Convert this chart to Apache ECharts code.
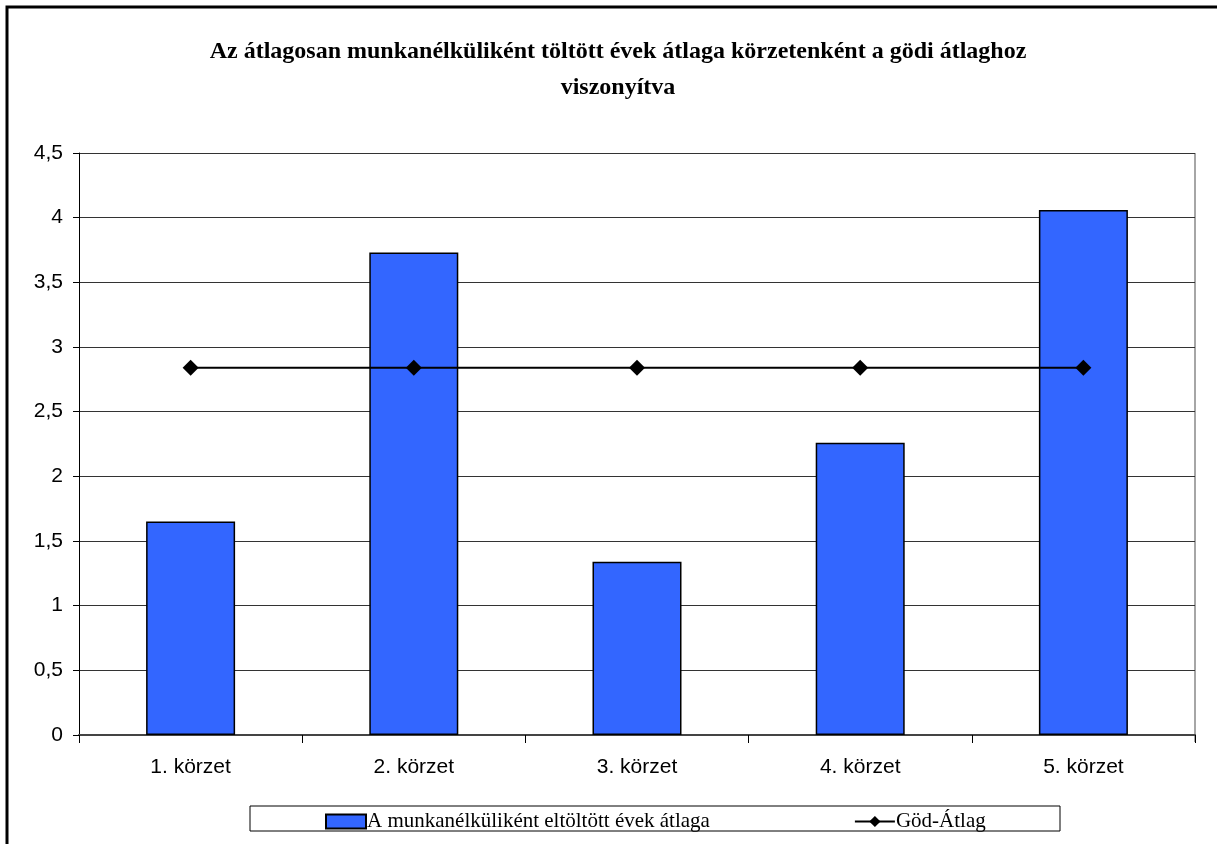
<!DOCTYPE html>
<html lang="hu">
<head>
    <meta charset="UTF-8">
    <title>Munkanélküliként töltött évek</title>
    <script type="text/javascript" src="https://cdn.jsdelivr.net/npm/echarts@6/dist/echarts.min.js"></script>
</head>
<body style="height: 844px; margin: 0; width: 1217px; background: #fff">
<div id="container" style="height: 100%; width: 100%"></div>
<script type="text/javascript">
    var korzetek = ['1. körzet', '2. körzet', '3. körzet', '4. körzet', '5. körzet'];
    var munkanelkuliEvek = [1.65, 3.73, 1.34, 2.26, 4.06];
    var godAtlag = [2.84, 2.84, 2.84, 2.84, 2.84];

    var dom = document.getElementById("container");
    var myChart = echarts.init(dom);

    var option = {
        animation: false,
        title: {
            text: 'Az átlagosan munkanélküliként töltött évek átlaga körzetenként a gödi átlaghoz\nviszonyítva',
            left: 613,
            top: 29,
            textAlign: 'center',
            textStyle: {
                fontFamily: 'Liberation Serif',
                fontWeight: 'bold',
                fontSize: 24,
                lineHeight: 36,
                color: '#000'
            }
        },
        graphic: [
            {
                type: 'rect',
                shape: { x: 7, y: 7, width: 1240, height: 860 },
                style: { fill: 'none', stroke: '#000', lineWidth: 3 },
                silent: true
            },
            {
                type: 'rect',
                shape: { x: 250, y: 806, width: 810, height: 25 },
                style: { fill: 'none', stroke: '#000', lineWidth: 1 },
                silent: true
            },
            {
                type: 'line',
                shape: { x1: 1195, y1: 153, x2: 1195, y2: 742 },
                style: { stroke: '#888', lineWidth: 1.5 },
                silent: true
            }
        ],
        legend: {
            left: 320,
            top: 806,
            itemGap: 144,
            itemWidth: 40,
            itemHeight: 14,
            textStyle: {
                fontFamily: 'Liberation Serif',
                fontSize: 21,
                color: '#000',
                padding: [0, 0, 0, -4]
            },
            data: [
                { name: 'A munkanélküliként eltöltött évek átlaga', icon: 'rect' },
                { name: 'Göd-Átlag' }
            ]
        },
        grid: {
            left: 79,
            top: 153,
            width: 1116,
            height: 582,
            containLabel: false
        },
        xAxis: {
            type: 'category',
            data: korzetek,
            axisLine: { lineStyle: { color: '#444', width: 2 } },
            axisTick: { show: true, inside: false, length: 8, alignWithLabel: false, lineStyle: { color: '#000' } },
            axisLabel: {
                fontFamily: 'Liberation Sans',
                fontSize: 21,
                color: '#000',
                margin: 22
            }
        },
        yAxis: {
            type: 'value',
            min: 0,
            max: 4.5,
            interval: 0.5,
            axisLine: { show: true, lineStyle: { color: '#000', width: 1 } },
            axisTick: { show: true, length: 6, lineStyle: { color: '#000' } },
            axisLabel: {
                fontFamily: 'Liberation Sans',
                fontSize: 21,
                color: '#000',
                margin: 16,
                formatter: function (v) { return String(v).replace('.', ','); }
            },
            splitLine: { show: true, lineStyle: { color: '#333', width: 1 } }
        },
        series: [
            {
                name: 'A munkanélküliként eltöltött évek átlaga',
                type: 'bar',
                data: munkanelkuliEvek,
                barWidth: 89,
                itemStyle: {
                    color: '#3366FF',
                    borderColor: '#000',
                    borderWidth: 1.5
                }
            },
            {
                name: 'Göd-Átlag',
                type: 'line',
                data: godAtlag,
                symbol: 'diamond',
                symbolSize: 16,
                lineStyle: { color: '#000', width: 2 },
                itemStyle: { color: '#000' }
            }
        ]
    };
    myChart.setOption(option, true);
</script>
</body>
</html>
